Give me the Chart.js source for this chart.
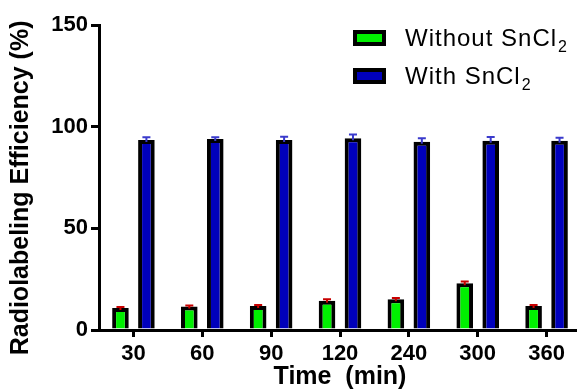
<!DOCTYPE html>
<html>
<head>
<meta charset="utf-8">
<script src="https://cdn.jsdelivr.net/npm/chart.js@4"></script>
<style>
  html, body { margin: 0; padding: 0; overflow: hidden; background: #fff; }
  #wrap { width: 582px; height: 390px; }
</style>
</head>
<body>
<div id="wrap"><canvas id="chart"></canvas></div>
<script>
// --- Radiolabeling efficiency vs time ---
const timeLabels = ['30', '60', '90', '120', '240', '300', '360'];
const withoutSn = [10.8, 11.5, 11.8, 14.4, 15.1, 23.0, 11.8];
const withoutSnErr = [0.5, 0.5, 0.5, 0.7, 0.6, 0.8, 0.5];
const withSn = [93.4, 93.9, 93.4, 94.3, 92.6, 93.1, 93.1];
const withSnErr = [1.4, 0.9, 1.7, 1.9, 1.7, 1.8, 1.5];
const yTicks = [0, 50, 100, 150];

const FONT = "'Liberation Sans', Arial, sans-serif";

// error bars on top of each bar, placed with the y scale
const errorBars = {
    id: 'errorBars',
    afterDatasetsDraw(chart) {
        const ctx = chart.ctx;
        const y = chart.scales.y;
        chart.data.datasets.forEach((ds, i) => {
            const meta = chart.getDatasetMeta(i);
            ctx.save();
            ctx.strokeStyle = ds.errColor;
            ctx.lineWidth = 2;
            meta.data.forEach((bar, j) => {
                const v = ds.data[j];
                const top = y.getPixelForValue(v + ds.err[j]);
                const base = y.getPixelForValue(v);
                ctx.beginPath();
                ctx.moveTo(bar.x, base + 2);
                ctx.lineTo(bar.x, top);
                ctx.moveTo(bar.x - 4, top);
                ctx.lineTo(bar.x + 4, top);
                ctx.stroke();
            });
            ctx.restore();
        });
    }
};

// legend drawn by hand so the 2 can be a subscript
const subLegend = {
    id: 'subLegend',
    afterDraw(chart) {
        const ctx = chart.ctx;
        const rows = [
            { name: 'Without SnCl', color: chart.data.datasets[0].backgroundColor, y: 38 },
            { name: 'With SnCl', color: chart.data.datasets[1].backgroundColor, y: 76 }
        ];
        ctx.save();
        rows.forEach(r => {
            ctx.fillStyle = '#000';
            ctx.fillRect(353, r.y - 8, 33, 16);
            ctx.fillStyle = r.color;
            ctx.fillRect(357, r.y - 4, 25, 8);
            ctx.fillStyle = '#000';
            ctx.textBaseline = 'alphabetic';
            ctx.textAlign = 'left';
            ctx.font = '24px ' + FONT;
            if ('letterSpacing' in ctx) ctx.letterSpacing = '1px';
            ctx.fillText(r.name, 405, r.y + 8);
            const w = ctx.measureText(r.name).width;
            ctx.font = '16px ' + FONT;
            ctx.fillText('2', 405 + w + 1, r.y + 14);
        });
        ctx.restore();
    }
};

new Chart(document.getElementById('chart'), {
    type: 'bar',
    data: {
        labels: timeLabels,
        datasets: [
            {
                label: 'Without SnCl₂',
                data: withoutSn,
                err: withoutSnErr,
                errColor: '#c80000',
                backgroundColor: '#00f000',
                borderColor: '#000',
                borderWidth: 4,
                borderSkipped: 'start',
                categoryPercentage: 0.754,
                barPercentage: 0.64
            },
            {
                label: 'With SnCl₂',
                data: withSn,
                err: withSnErr,
                errColor: '#3a3acc',
                backgroundColor: '#0000bb',
                borderColor: '#000',
                borderWidth: 4,
                borderSkipped: 'start',
                categoryPercentage: 0.754,
                barPercentage: 0.64
            }
        ]
    },
    options: {
        responsive: true,
        maintainAspectRatio: false,
        animation: false,
        layout: { padding: { top: 25, right: 1, bottom: 0, left: 0 } },
        plugins: {
            legend: { display: false },
            tooltip: { enabled: false }
        },
        scales: {
            x: {
                offset: true,
                grid: { offset: false, drawOnChartArea: false, color: '#000', lineWidth: 3, tickLength: 7 },
                border: { color: '#000', width: 3 },
                ticks: { color: '#000', padding: 4, font: { family: FONT, size: 22, weight: 'bold' } },
                title: {
                    display: true,
                    text: 'Time  (min)',
                    color: '#000',
                    padding: { top: 0, bottom: 0 },
                    font: { family: FONT, size: 25, weight: 'bold', lineHeight: 1 }
                },
                afterFit: (s) => { s.height = 60; }
            },
            y: {
                min: 0,
                max: 150,
                afterBuildTicks: (s) => { s.ticks = yTicks.map(v => ({ value: v })); },
                grid: { drawOnChartArea: false, color: '#000', lineWidth: 3, tickLength: 8 },
                border: { color: '#000', width: 3 },
                ticks: { color: '#000', padding: 3, font: { family: FONT, size: 22, weight: 'bold' } },
                title: {
                    display: true,
                    text: 'Radiolabeling Efficiency (%)   ',
                    color: '#000',
                    padding: { top: 9, bottom: 0 },
                    font: { family: FONT, size: 25, weight: 'bold', lineHeight: 1 }
                },
                afterFit: (s) => { s.width = 99; }
            }
        }
    },
    plugins: [errorBars, subLegend]
});
</script>
</body>
</html>
